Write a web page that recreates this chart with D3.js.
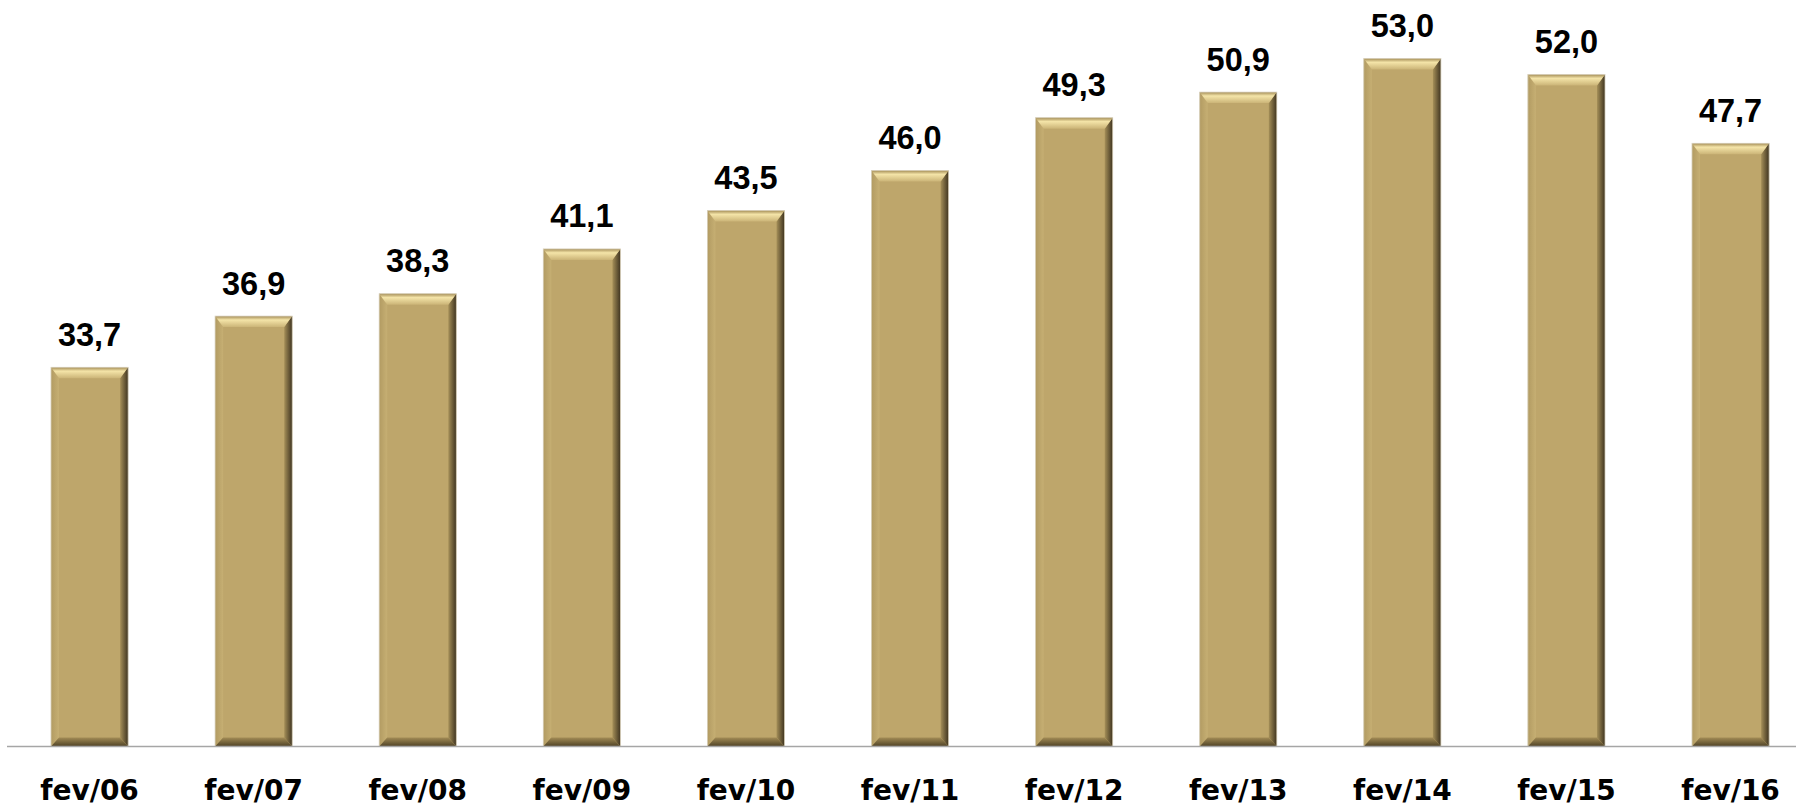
<!DOCTYPE html>
<html lang="pt">
<head>
<meta charset="UTF-8">
<title>fev/06 - fev/16</title>
<script src="https://d3js.org/d3.v7.min.js"></script>
<style>
    body { margin: 0; background: #ffffff; }
    .val { font-family: "Liberation Sans", Arial, sans-serif; font-weight: bold; font-size: 32.5px; fill: #000; }
    .cat { font-family: "DejaVu Sans", sans-serif; font-weight: bold; font-size: 28px; fill: #000; }
</style>
</head>
<body>
<svg width="1796" height="808"></svg>
<script>
    // data
    const categories = ["fev/06","fev/07","fev/08","fev/09","fev/10","fev/11","fev/12","fev/13","fev/14","fev/15","fev/16"];
    const values = [33.7, 36.9, 38.3, 41.1, 43.5, 46.0, 49.3, 50.9, 53.0, 52.0, 47.7];
    const valueLabels = ["33,7","36,9","38,3","41,1","43,5","46,0","49,3","50,9","53,0","52,0","47,7"];

    const svg = d3.select("svg");
    const baseY = 746.5;

    const x = d3.scaleBand()
        .domain(categories)
        .range([7.5, 7.5 + 11 * 164.1])
        .paddingInner(0.53)
        .paddingOuter(0.265);

    const y = d3.scaleLinear()
        .domain([10, 55])
        .range([baseY, baseY - 45 * 16.0]);

    // gradients for the bevel look
    const defs = svg.append("defs");
    function grad(id, x2, y2, stops) {
        const g = defs.append("linearGradient").attr("id", id)
            .attr("x1", 0).attr("y1", 0).attr("x2", x2).attr("y2", y2);
        stops.forEach(s => g.append("stop").attr("offset", s[0]).attr("stop-color", s[1]));
    }
    grad("gTop", 0, 1, [["0%", "#a38c56"], ["35%", "#f4e4a8"], ["100%", "#cbb477"]]);
    grad("gLeft", 1, 0, [["0%", "#b29b62"], ["100%", "#c6af73"]]);
    grad("gRight", 1, 0, [["0%", "#a58f58"], ["100%", "#3f3420"]]);
    grad("gBottom", 0, 1, [["0%", "#a38c56"], ["100%", "#4e4125"]]);

    const bw = x.bandwidth();
    const bt = 11, bs = 8, bb = 9;   // bevel sizes

    const bars = svg.append("g").attr("class", "bars")
        .selectAll("g")
        .data(categories)
        .enter()
        .append("g");

    bars.each(function (c, i) {
        const g = d3.select(this);
        const x0 = x(c), x1 = x0 + bw;
        const y0 = y(values[i]), y1 = baseY;
        const pts = p => p.map(q => q.join(",")).join(" ");

        g.append("rect")
            .attr("x", x0).attr("y", y0)
            .attr("width", bw).attr("height", y1 - y0)
            .attr("fill", "#bea66b");
        g.append("polygon").attr("fill", "url(#gLeft)")
            .attr("points", pts([[x0, y0], [x0 + bs, y0 + bt], [x0 + bs, y1 - bb], [x0, y1]]));
        g.append("polygon").attr("fill", "url(#gRight)")
            .attr("points", pts([[x1 - bs, y0 + bt], [x1, y0], [x1, y1], [x1 - bs, y1 - bb]]));
        g.append("polygon").attr("fill", "url(#gBottom)")
            .attr("points", pts([[x0 + bs, y1 - bb], [x1 - bs, y1 - bb], [x1, y1], [x0, y1]]));
        g.append("polygon").attr("fill", "url(#gTop)")
            .attr("points", pts([[x0, y0], [x1, y0], [x1 - bs, y0 + bt], [x0 + bs, y0 + bt]]));
        g.append("rect")
            .attr("x", x0).attr("y", y0)
            .attr("width", bw).attr("height", y1 - y0)
            .attr("fill", "none")
            .attr("stroke", "#d9d2bf")
            .attr("stroke-width", 0.8);
    });

    // value labels
    svg.append("g").selectAll("text")
        .data(categories)
        .enter()
        .append("text")
        .attr("class", "val")
        .attr("x", c => x(c) + bw / 2)
        .attr("y", (c, i) => y(values[i]) - 21.5)
        .attr("text-anchor", "middle")
        .text((c, i) => valueLabels[i]);

    // axis line
    svg.append("line")
        .attr("x1", 7).attr("x2", 1796)
        .attr("y1", baseY).attr("y2", baseY)
        .attr("stroke", "#a6a6a6")
        .attr("stroke-width", 1.5);

    // category labels
    svg.append("g").selectAll("text")
        .data(categories)
        .enter()
        .append("text")
        .attr("class", "cat")
        .attr("x", c => x(c) + bw / 2)
        .attr("y", 800)
        .attr("text-anchor", "middle")
        .text(c => c);
</script>
</body>
</html>
